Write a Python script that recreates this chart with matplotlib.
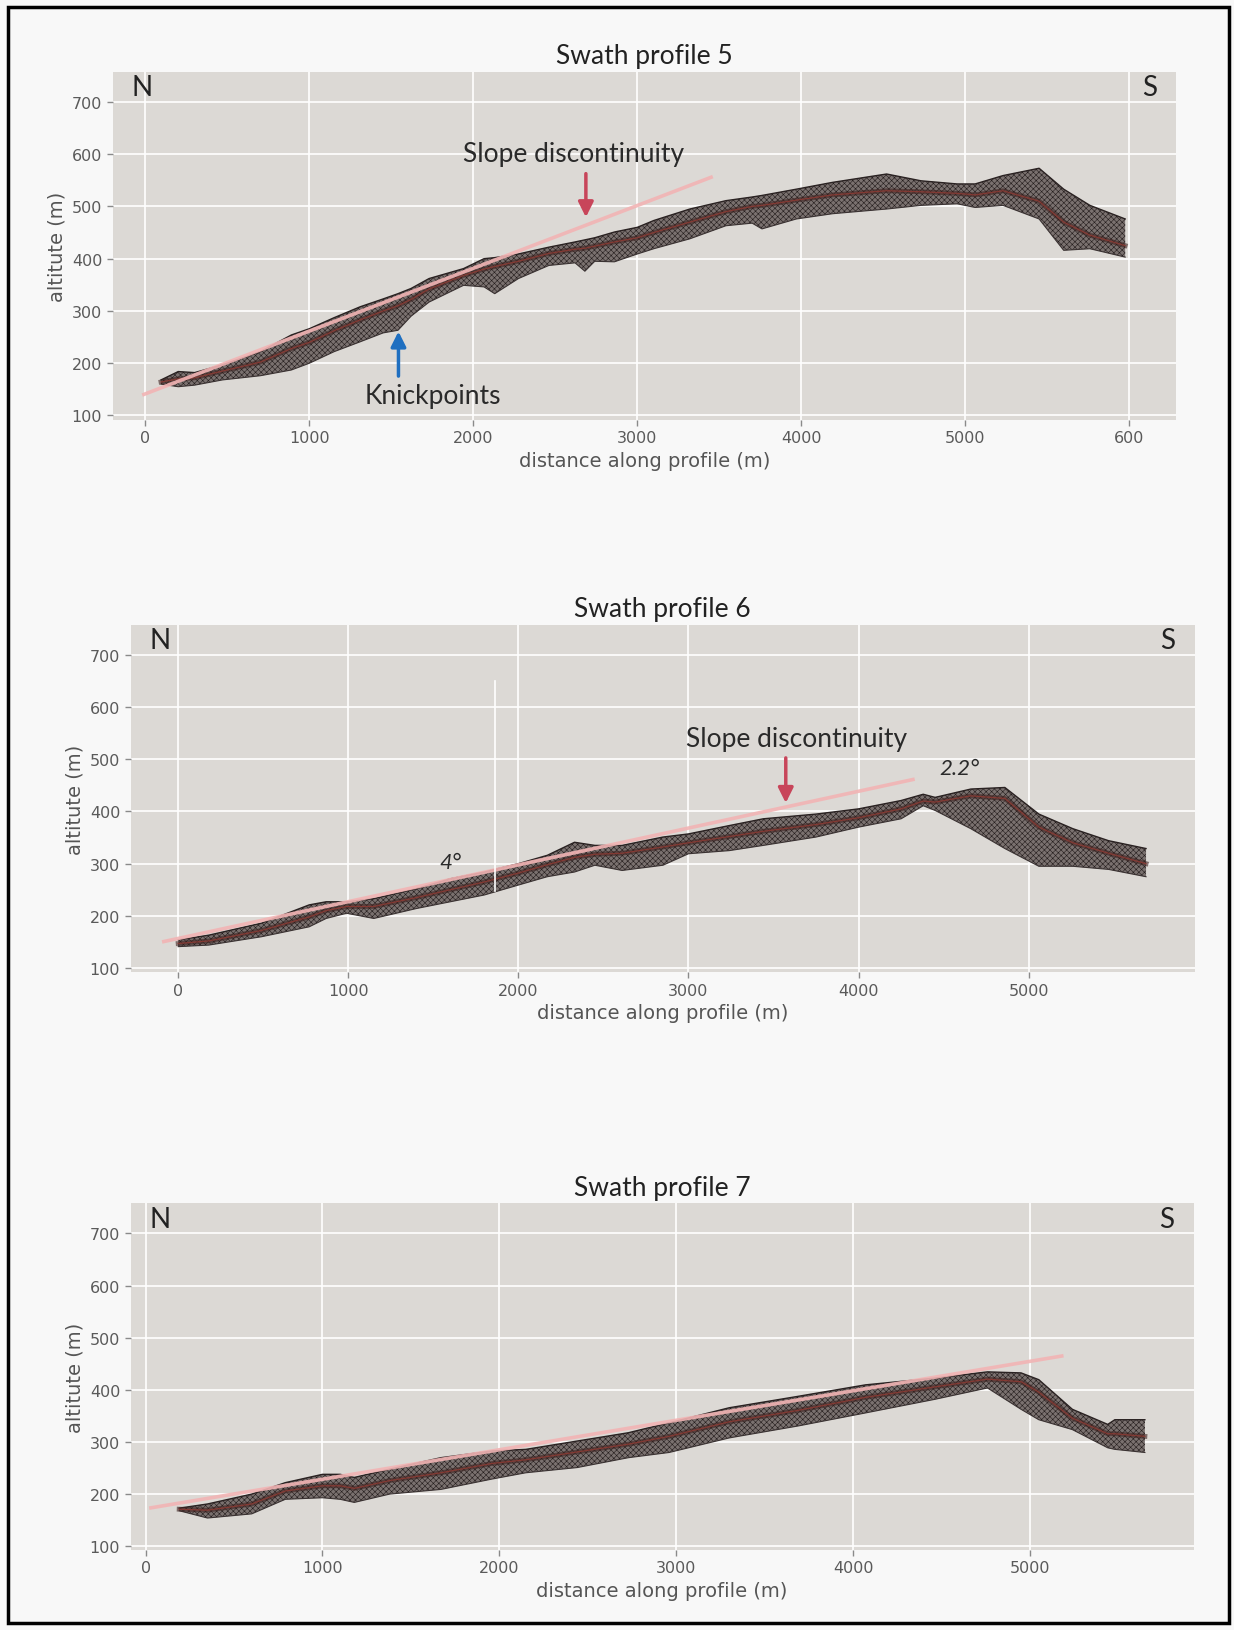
import matplotlib
matplotlib.use("Agg")
import matplotlib.pyplot as plt
from matplotlib.patches import Rectangle

# swath profile 5: distance (m), upper / lower envelope and central line (m)
x5 = [95, 200, 300, 470, 700, 890, 1000, 1150, 1310, 1450, 1540, 1620, 1730, 1940,
      2065, 2130, 2275, 2460, 2620, 2680, 2740, 2860, 3000, 3100, 3320, 3540, 3700,
      3760, 3970, 4190, 4520, 4730, 4950, 5060, 5230, 5450, 5600, 5760, 5975]
up5 = [168, 184, 182, 197, 222, 254, 266, 287, 308, 323, 333, 343, 362, 381,
       400, 402, 409, 422, 432, 436, 440, 451, 460, 473, 495, 511, 518,
       521, 533, 546, 562, 549, 543, 543, 559, 573, 533, 502, 476]
lo5 = [160, 155, 158, 168, 176, 187, 200, 222, 241, 258, 263, 290, 317, 349,
       346, 333, 362, 387, 392, 376, 395, 394, 409, 419, 438, 463, 468,
       457, 476, 486, 495, 502, 505, 498, 502, 476, 416, 419, 403]
mid5 = [164, 170, 172, 185, 202, 228, 240, 262, 283, 300, 310, 322, 342, 368,
        380, 385, 395, 410, 418, 420, 424, 432, 440, 450, 470, 490, 500,
        502, 512, 522, 530, 528, 525, 522, 530, 510, 470, 445, 425]
trend5_x = [-20, 3460]
trend5_y = [139, 557]

# swath profile 6
x6 = [0, 180, 490, 770, 870, 990, 1150, 1400, 1600, 1800, 2000, 2170, 2330, 2450,
      2610, 2850, 3000, 3240, 3440, 3750, 4000, 4250, 4380, 4450, 4660, 4860, 5060,
      5260, 5470, 5690]
up6 = [154, 163, 186, 221, 227, 227, 233, 252, 271, 284, 300, 316, 341, 335,
       335, 351, 357, 373, 386, 395, 405, 421, 433, 427, 443, 446, 395,
       367, 344, 329]
lo6 = [141, 144, 160, 179, 195, 205, 195, 214, 227, 240, 259, 275, 284, 297,
       287, 297, 319, 325, 335, 351, 370, 386, 411, 402, 367, 329, 295,
       295, 289, 275]
mid6 = [147, 152, 172, 198, 210, 218, 218, 235, 250, 265, 282, 298, 312, 318,
        320, 332, 340, 352, 362, 375, 388, 405, 420, 418, 430, 425, 370,
        340, 320, 300]
trend6_x = [-95, 4330]
trend6_y = [150, 462]
mark6_x = [1865, 1865]
mark6_y = [248, 650]

# swath profile 7
x7 = [190, 350, 600, 790, 1000, 1100, 1180, 1380, 1670, 1960, 2150, 2440, 2730,
      2960, 3300, 3690, 4070, 4460, 4760, 4950, 5050, 5240, 5440, 5480, 5650]
up7 = [172, 180, 199, 221, 237, 237, 231, 247, 269, 282, 285, 301, 317,
       336, 365, 387, 409, 422, 434, 432, 419, 362, 333, 342, 342]
lo7 = [167, 153, 161, 189, 192, 189, 183, 199, 208, 228, 240, 250, 269,
       279, 307, 330, 355, 381, 403, 362, 342, 323, 288, 285, 279]
mid7 = [170, 168, 180, 205, 215, 215, 210, 225, 240, 258, 265, 280, 295,
        310, 338, 360, 385, 405, 420, 415, 395, 345, 315, 315, 310]
trend7_x = [20, 5190]
trend7_y = [172, 465]

yticks = [100, 200, 300, 400, 500, 600, 700]
xticks5 = [0, 1000, 2000, 3000, 4000, 5000, 6000]
xlabels5 = ["0", "1000", "2000", "3000", "4000", "5000", "600"]
xticks67 = [0, 1000, 2000, 3000, 4000, 5000]

ANN = "Lato"
plt.rcParams["hatch.linewidth"] = 0.4

fig = plt.figure(figsize=(12.34, 16.31), dpi=100, facecolor="#f8f8f8")
fig.add_artist(Rectangle((0.0065, 0.0043), 0.9895, 0.9908, transform=fig.transFigure,
                         fill=False, lw=2.5, ec="black"))


def panel(rect, x, up, lo, mid, tx, ty, xlim, xticks, xlabels, title):
    ax = fig.add_axes(rect)
    ax.set_facecolor("#dcd9d5")
    for s in ax.spines.values():
        s.set_visible(False)
    ax.grid(True, color="white", lw=1.2)
    ax.set_axisbelow(True)
    ax.fill_between(x, lo, up, facecolor="#7a716f", edgecolor="#241d1d",
                    hatch="xxxxxx", linewidth=0, zorder=2)
    ax.plot(x, up, color="#2a2222", lw=1.0, zorder=3)
    ax.plot(x, lo, color="#3a3232", lw=0.8, zorder=3)
    ax.plot(x, mid, color="#3e2220", lw=3.5, alpha=0.6, zorder=3)
    ax.plot(x, mid, color="#8e3a33", lw=0.9, alpha=0.85, zorder=4)
    ax.plot(tx, ty, color="#f2b4b4", lw=2.6, alpha=0.9, zorder=5,
            solid_capstyle="butt")
    ax.set_xlim(*xlim)
    ax.set_ylim(92, 758)
    ax.set_yticks(yticks)
    ax.set_xticks(xticks)
    ax.set_xticklabels(xlabels)
    ax.tick_params(direction="out", length=4, width=1, color="#8a8a8a",
                   labelcolor="#5a5a5a", labelsize=11.5)
    ax.set_xlabel("distance along profile (m)", fontsize=14, color="#555555")
    ax.set_ylabel("altitute (m)", fontsize=14, color="#555555")
    ax.set_title(title, fontsize=19, family=ANN, color="#222222", pad=6)
    ax.text(0.018, 0.955, "N", transform=ax.transAxes, fontsize=20, family=ANN,
            color="#222222", ha="left", va="center")
    ax.text(0.982, 0.955, "S", transform=ax.transAxes, fontsize=20, family=ANN,
            color="#222222", ha="right", va="center")
    return ax


ax1 = panel([0.0913, 0.7421, 0.8617, 0.2134], x5, up5, lo5, mid5, trend5_x, trend5_y,
            (-200, 6285), xticks5, xlabels5, "Swath profile 5")
ax1.annotate("", xy=(2686, 474), xytext=(2686, 568),
             arrowprops=dict(arrowstyle="-|>,head_width=0.45,head_length=0.9",
                             color="#c8455a", lw=2.5), zorder=6)
ax1.text(2610, 602, "Slope discontinuity", fontsize=19, family=ANN, color="#2a2a2a",
         ha="center", va="center", zorder=6)
ax1.annotate("", xy=(1543, 266), xytext=(1543, 170),
             arrowprops=dict(arrowstyle="-|>,head_width=0.45,head_length=0.9",
                             color="#1f6fc0", lw=2.5), zorder=6)
ax1.text(1752, 138, "Knickpoints", fontsize=19, family=ANN, color="#2a2a2a",
         ha="center", va="center", zorder=6)

ax2 = panel([0.1058, 0.4033, 0.8622, 0.2131], x6, up6, lo6, mid6, trend6_x, trend6_y,
            (-280, 5975), xticks67, [str(v) for v in xticks67], "Swath profile 6")
ax2.plot(mark6_x, mark6_y, color="white", lw=1.2, zorder=5)
ax2.annotate("", xy=(3572, 411), xytext=(3572, 508),
             arrowprops=dict(arrowstyle="-|>,head_width=0.45,head_length=0.9",
                             color="#c8455a", lw=2.5), zorder=6)
ax2.text(3633, 539, "Slope discontinuity", fontsize=19, family=ANN, color="#2a2a2a",
         ha="center", va="center", zorder=6)
ax2.text(4593, 483, "2.2°", fontsize=16, family=ANN, style="italic", color="#2a2a2a",
         ha="center", va="center", zorder=6)
ax2.text(1602, 304, "4°", fontsize=16, family=ANN, style="italic", color="#2a2a2a",
         ha="center", va="center", zorder=6)

ax3 = panel([0.1058, 0.0492, 0.8614, 0.2124], x7, up7, lo7, mid7, trend7_x, trend7_y,
            (-85, 5925), xticks67, [str(v) for v in xticks67], "Swath profile 7")

fig.savefig("out.png", dpi=100, facecolor=fig.get_facecolor())
